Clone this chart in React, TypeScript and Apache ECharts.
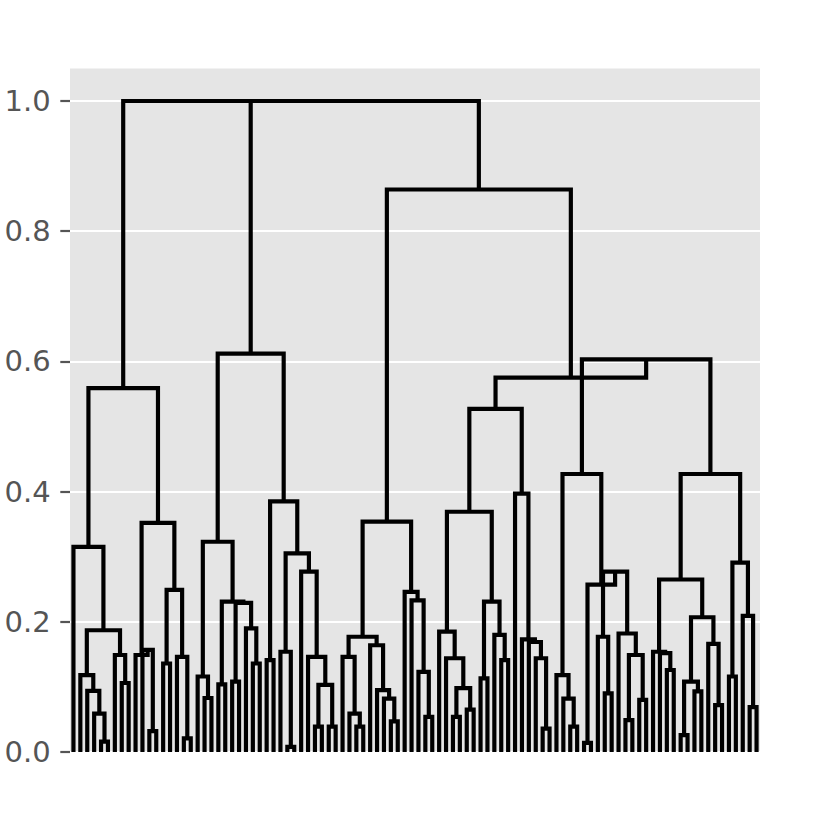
import React, { useEffect, useRef } from "react";
import * as echarts from "echarts";

// Dendrogram (scipy-style linkage): leaves 0..99, cluster ids 100 + k
const leafCount = 100;

const mergeLeft = [
  4, 3, 2, 1, 7, 6, 103, 0, 11, 10,
  9, 13, 16, 15, 111, 110, 107, 19, 18, 21,
  23, 26, 25, 120, 119, 118, 28, 31, 30, 35,
  37, 129, 34, 33, 128, 126, 125, 41, 40, 39,
  46, 45, 44, 43, 139, 51, 50, 49, 48, 144,
  55, 57, 150, 54, 53, 59, 62, 61, 155, 154,
  68, 67, 66, 65, 64, 159, 72, 71, 70, 74,
  77, 76, 80, 82, 172, 79, 171, 169, 168, 86,
  85, 84, 88, 90, 182, 93, 92, 184, 181, 95,
  98, 97, 189, 188, 178, 165, 149, 136, 116,
];

const mergeRight = [
  5, 100, 101, 102, 8, 104, 105, 106, 12, 108,
  109, 14, 17, 112, 113, 114, 115, 20, 117, 22,
  24, 27, 121, 122, 123, 124, 29, 32, 127, 36,
  38, 130, 131, 132, 133, 134, 135, 42, 137, 138,
  47, 140, 141, 142, 143, 52, 145, 146, 147, 148,
  56, 58, 151, 152, 153, 60, 63, 156, 157, 158,
  69, 160, 161, 162, 163, 164, 73, 166, 167, 75,
  78, 170, 81, 83, 173, 174, 175, 176, 177, 87,
  179, 180, 89, 91, 183, 94, 185, 186, 187, 96,
  99, 190, 191, 192, 193, 194, 195, 196, 197,
];

const mergeHeight = [
  0.016, 0.059, 0.094, 0.118, 0.106, 0.149, 0.187, 0.315, 0.032, 0.157,
  0.149, 0.136, 0.021, 0.146, 0.249, 0.352, 0.559, 0.083, 0.116, 0.104,
  0.108, 0.136, 0.19, 0.229, 0.231, 0.323, 0.141, 0.008, 0.154, 0.039,
  0.039, 0.103, 0.146, 0.277, 0.305, 0.385, 0.612, 0.039, 0.059, 0.146,
  0.047, 0.082, 0.095, 0.164, 0.177, 0.054, 0.123, 0.233, 0.246, 0.354,
  0.054, 0.065, 0.098, 0.144, 0.185, 0.113, 0.141, 0.18, 0.231, 0.369,
  0.036, 0.144, 0.169, 0.173, 0.397, 0.527, 0.039, 0.082, 0.118, 0.014,
  0.09, 0.177, 0.049, 0.08, 0.149, 0.182, 0.277, 0.257, 0.427, 0.126,
  0.152, 0.154, 0.026, 0.093, 0.108, 0.072, 0.166, 0.207, 0.265, 0.116,
  0.069, 0.209, 0.291, 0.427, 0.603, 0.575, 0.864, 1.0, 1.0,
];

const yTickValues = [0, 0.2, 0.4, 0.6, 0.8, 1.0];
const yMax = 1.05;

function buildLinks(): number[][] {
  const n = leafCount;
  const root = n + mergeLeft.length - 1;
  const order: number[] = [];
  const stack = [root];
  while (stack.length) {
    const id = stack.pop() as number;
    if (id < n) order.push(id);
    else {
      const k = id - n;
      stack.push(mergeRight[k]);
      stack.push(mergeLeft[k]);
    }
  }
  const xPos = new Map<number, number>();
  order.forEach((leaf, i) => xPos.set(leaf, 5 + 10 * i));
  const rows: number[][] = [];
  for (let k = 0; k < mergeLeft.length; k++) {
    const a = mergeLeft[k];
    const b = mergeRight[k];
    const h = mergeHeight[k];
    const xa = xPos.get(a) as number;
    const xb = xPos.get(b) as number;
    const ha = a < n ? 0 : mergeHeight[a - n];
    const hb = b < n ? 0 : mergeHeight[b - n];
    rows.push([xa, ha, xb, hb, h]);
    xPos.set(n + k, (xa + xb) / 2);
  }
  return rows;
}

export default function App() {
  const ref = useRef<HTMLDivElement>(null);
  useEffect(() => {
    if (!ref.current) return;
    const chart = echarts.init(ref.current, undefined, { renderer: "svg" });
    const links = buildLinks();
    chart.setOption({
      animation: false,
      backgroundColor: "#ffffff",
      grid: {
        left: 70,
        right: 70,
        top: 68.45,
        bottom: 70,
        show: true,
        backgroundColor: "#E5E5E5",
        borderWidth: 0,
      },
      xAxis: {
        type: "value",
        min: 0,
        max: leafCount * 10,
        show: false,
      },
      yAxis: {
        type: "value",
        min: 0,
        max: yMax,
        axisLine: { show: false },
        axisTick: {
          show: true,
          length: 9.7,
          customValues: yTickValues,
          lineStyle: { color: "#555555", width: 2.2 },
        },
        axisLabel: {
          customValues: yTickValues,
          formatter: (v: number) => v.toFixed(1),
          color: "#555555",
          fontSize: 29,
          fontFamily: "DejaVu Sans",
          margin: 19.4,
        },
        splitLine: {
          show: true,
          lineStyle: { color: "#ffffff", width: 2.2 },
        },
      },
      series: [
        {
          type: "custom",
          dimensions: ["x0", "y0", "x1", "y1", "h"],
          encode: { x: [0, 2], y: [1, 3, 4] },
          data: links,
          renderItem: (_params: any, api: any) => {
            const p1 = api.coord([api.value(0), api.value(1)]);
            const p2 = api.coord([api.value(0), api.value(4)]);
            const p3 = api.coord([api.value(2), api.value(4)]);
            const p4 = api.coord([api.value(2), api.value(3)]);
            return {
              type: "polyline",
              shape: { points: [p1, p2, p3, p4] },
              style: {
                stroke: "#000000",
                fill: null,
                lineWidth: 4.17,
                lineJoin: "miter",
                lineCap: "butt",
              },
            };
          },
        },
      ],
    });
    return () => chart.dispose();
  }, []);
  return (
    <div
      ref={ref}
      style={{ position: "absolute", left: 0, top: 0, width: 830, height: 822 }}
    />
  );
}
